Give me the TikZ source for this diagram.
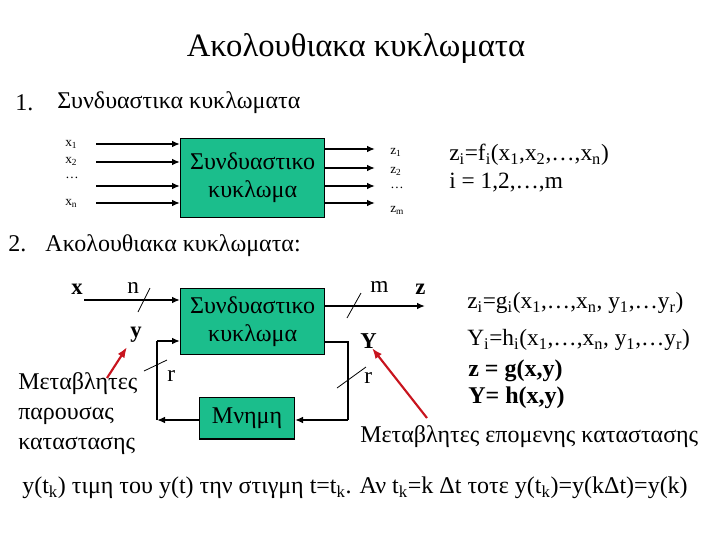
\documentclass[tikz,border=0pt]{standalone}
\usepackage{fontspec}
\setmainfont{Liberation Serif}
\usetikzlibrary{arrows.meta}
\definecolor{boxgreen}{RGB}{27,190,140}
\definecolor{arrred}{RGB}{200,20,30}
\tikzset{
  blk/.style={draw=black, line width=1pt, fill=boxgreen, inner sep=0pt, align=center, font=\fontsize{18}{21}\selectfont},
  wire/.style={line width=1.4pt, -{Latex[length=6pt,width=5pt]}},
  plainwire/.style={line width=1.4pt},
  slash/.style={line width=0.6pt},
  redarr/.style={draw=arrred, line width=1.6pt, -{Latex[length=8pt,width=6pt]}},
  lbl/.style={inner sep=0pt, anchor=west},
  tiny/.style={lbl, font=\fontsize{10}{12}\selectfont},
  mid/.style={lbl, font=\fontsize{17.5}{20}\selectfont},
  big/.style={lbl, font=\fontsize{18}{21}\selectfont},
  bfl/.style={lbl, font=\fontsize{17}{20}\selectfont\bfseries},
}
\begin{document}
\begin{tikzpicture}[x=0.75pt,y=-0.75pt]
\useasboundingbox (0,0) rectangle (720,540);
% title
\node[inner sep=0pt, font=\fontsize{24.5}{28}\selectfont] (title) at (356,48) {Ακολουθιακα κυκλωματα};
\node[big] (one) at (15,103) {1.};
\node[big] (h1) at (57,103) {Συνδυαστικα κυκλωματα};
% part 1
\node[blk, minimum width=108pt, minimum height=59pt, anchor=north west] (c1) at (180,138) {Συνδυαστικο\\κυκλωμα};
\foreach \yy/\nm in {144/a,162/b,186/c,203/d}{
  \coordinate (in\nm) at (96,\yy);
  \draw[wire] (in\nm) -- (c1.west |- in\nm);
}
\node[tiny] (x1) at (65,144) {x\textsubscript{1}};
\node[tiny] (x2) at (65,161) {x\textsubscript{2}};
\node[tiny] (xd) at (65,178) {…};
\node[tiny] (xn) at (65,203) {x\textsubscript{n}};
\foreach \yy/\nm in {149/a,168/b,186/c,203/d}{
  \coordinate (out\nm) at (375,\yy);
  \draw[wire] (c1.east |- out\nm) -- (out\nm);
}
\node[tiny] (z1) at (390,152) {z\textsubscript{1}};
\node[tiny] (z2) at (390,171) {z\textsubscript{2}};
\node[tiny] (zd) at (390,188) {…};
\node[tiny] (zm) at (390,210) {z\textsubscript{m}};
\node[mid] (f1) at (449,155) {z\textsubscript{i}=f\textsubscript{i}(x\textsubscript{1},x\textsubscript{2},…,x\textsubscript{n})};
\node[mid] (f2) at (449,183) {i = 1,2,…,m};
% part 2
\node[big] (h2) at (8,246) {2.\hspace{0.8em}Ακολουθιακα κυκλωματα:};
\node[blk, minimum width=108pt, minimum height=49.5pt, anchor=north west] (c2) at (180,288) {Συνδυαστικο\\κυκλωμα};
\node[blk, minimum width=71pt, minimum height=31pt, anchor=north west] (mem) at (199,397) {Μνημη};
\node[bfl] (xl) at (71,289) {x};
\coordinate (xs) at (84,300);
\draw[wire] (xs) -- (c2.west |- xs);
\draw[slash] (138,312) -- (150,288);
\node[mid] (nl) at (127,288) {n};
\node[bfl] (yl) at (130,335) {y};
% feedback
\coordinate (fbL) at (157,341);
\coordinate (fbLb) at (157,420);
\coordinate (fbR) at (348,342);
\coordinate (fbRb) at (348,420);
\draw[plainwire] (c2.east |- fbR) -- (fbR) -- (fbRb);
\draw[wire] (fbRb) -- (mem.east |- fbRb);
\draw[wire] (mem.west |- fbLb) -- (fbLb);
\draw[plainwire] (fbLb) -- (fbL);
\draw[wire] (fbL) -- (c2.west |- fbL);
\draw[slash] (144,371) -- (167,360);
\node[mid] (rl) at (167,376) {r};
\draw[slash] (337,388) -- (366,367);
\node[mid] (rr) at (364,378) {r};
\node[bfl] (Yl) at (360,341) {Y};
% output
\coordinate (zo) at (425,306);
\draw[wire] (c2.east |- zo) -- (zo);
\draw[slash] (347,318) -- (361,293);
\node[mid] (ml) at (370,287) {m};
\node[bfl] (zl) at (415,289) {z};
% formulas
\node[mid] (g1) at (467,303) {z\textsubscript{i}=g\textsubscript{i}(x\textsubscript{1},…,x\textsubscript{n}, y\textsubscript{1},…y\textsubscript{r})};
\node[mid] (g2) at (467,340) {Y\textsubscript{i}=h\textsubscript{i}(x\textsubscript{1},…,x\textsubscript{n}, y\textsubscript{1},…y\textsubscript{r})};
\node[lbl, font=\fontsize{18}{21}\selectfont\bfseries] (g3) at (468,371) {z = g(x,y)};
\node[lbl, font=\fontsize{18}{21}\selectfont\bfseries] (g4) at (468,398) {Y= h(x,y)};
\node[lbl, font=\fontsize{18}{21}\selectfont] (next) at (360,437) {Μεταβλητες επομενης καταστασης};
\node[lbl, font=\fontsize{18}{22.5}\selectfont, align=left, anchor=north west] (pres) at (18,372) {Μεταβλητες\\παρουσας\\καταστασης};
\draw[redarr] (427,418) -- (372,348);
\draw[redarr] (107,378) -- (127,347);
% bottom
\node[lbl, font=\fontsize{18}{21}\selectfont] (bot) at (22,488) {y(t\textsubscript{k}) τιμη του y(t) την στιγμη t=t\textsubscript{k}. Αν t\textsubscript{k}=k Δt τοτε y(t\textsubscript{k})=y(kΔt)=y(k)};
\end{tikzpicture}
\end{document}
